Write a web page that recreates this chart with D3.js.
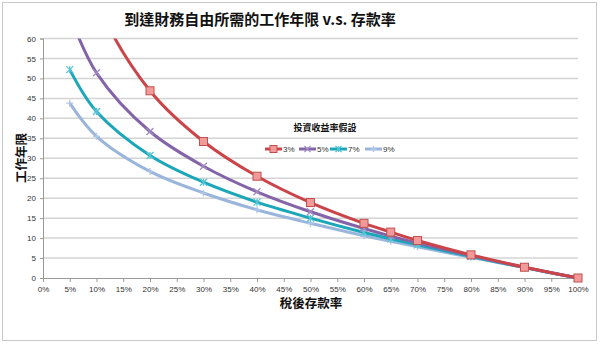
<!DOCTYPE html>
<html><head><meta charset="utf-8">
<script src="https://cdn.jsdelivr.net/npm/d3@7"></script>
<style>body{margin:0;background:#fff}svg{display:block}</style>
</head><body>
<svg id="c" width="600" height="344"></svg>
<script>
const savingsRates = [0.05,0.10,0.20,0.30,0.40,0.50,0.60,0.65,0.70,0.80,0.90,1.00];
const years3 = [92.2,69.3,46.9,34.2,25.5,18.9,13.7,11.5,9.4,5.8,2.7,0];
const years5 = [65.8,51.4,36.7,28.0,21.6,16.6,12.4,10.5,8.8,5.6,2.7,0];
const years7 = [52.2,41.7,30.7,24.0,19.0,15.0,11.4,9.8,8.3,5.4,2.6,0];
const years9 = [43.8,35.5,26.7,21.3,17.1,13.7,10.6,9.2,7.8,5.2,2.6,0];
const seriesNames = ["3%","5%","7%","9%"];
const yTicks = [0,5,10,15,20,25,30,35,40,45,50,55,60];
const xTicks = d3.range(0,21).map(i=>i*0.05);
const title = "到達財務自由所需的工作年限 v.s. 存款率";
const xTitle = "稅後存款率";
const yTitle = "工作年限";
const legendTitle = "投資收益率假設";

const colors = ["#CB4449","#8464A8","#1BA7B9","#9AB5DC"];
const markerColors = ["#C0504D","#A28CC4","#55C4D4","#B0C6E6"];
const markers = ["square","x","star","plus"];
const allYears = [years3,years5,years7,years9];

const svg = d3.select("#c");
const cjk = "'Noto Sans CJK TC','Noto Sans CJK SC',sans-serif";
const lf = "'Liberation Sans',Arial,sans-serif";

svg.append("rect").attr("x",2.5).attr("y",2.5).attr("width",594).attr("height",338)
  .attr("fill","#fff").attr("stroke","#c8c8c8");

const x = d3.scaleLinear().domain([0,1]).range([43,578]);
const y = d3.scaleLinear().domain([0,60]).range([278,38.5]);

// gridlines
svg.append("g").selectAll("line").data(yTicks.filter(d=>d>0)).join("line")
  .attr("x1",x(0)).attr("x2",x(1)).attr("y1",d=>y(d)).attr("y2",d=>y(d))
  .attr("stroke","#d4d4d4").attr("stroke-width",1.5);

// axes
const yAxis = d3.axisLeft(y).tickValues(yTicks).tickSize(3).tickPadding(4).tickFormat(d3.format("d"));
const gy = svg.append("g").attr("transform",`translate(${x(0)},0)`).call(yAxis);
const xAxis = d3.axisBottom(x).tickValues(xTicks).tickSize(4).tickPadding(4).tickFormat(d3.format(".0%"));
const gx = svg.append("g").attr("transform",`translate(0,${y(0)})`).call(xAxis);
[gx,gy].forEach(g=>{
  g.select(".domain").attr("stroke","#9a9a9a");
  g.selectAll(".tick line").attr("stroke","#9a9a9a");
  g.selectAll("text").attr("font-family",lf).attr("font-size",8).attr("fill","#333");
});

// clip
svg.append("clipPath").attr("id","pc").append("rect")
  .attr("x",x(0)).attr("y",y(60)).attr("width",x(1)-x(0)+10).attr("height",y(0)-y(60)+10);

const line = d3.line().x(d=>x(d[0])).y(d=>y(d[1])).curve(d3.curveCatmullRom.alpha(0.5));

function drawMarker(g, type, cx, cy, i, s){
  if(type==="square"){
    g.append("rect").attr("x",cx-s).attr("y",cy-s).attr("width",2*s).attr("height",2*s)
      .attr("fill","#F29A9A").attr("stroke",markerColors[i]).attr("stroke-width",1);
  } else {
    const p = d3.path();
    if(type==="x"||type==="star"){
      p.moveTo(cx-s,cy-s);p.lineTo(cx+s,cy+s);p.moveTo(cx-s,cy+s);p.lineTo(cx+s,cy-s);
    }
    if(type==="star"||type==="plus"){ p.moveTo(cx,cy-s);p.lineTo(cx,cy+s); }
    if(type==="plus"){ p.moveTo(cx-s,cy);p.lineTo(cx+s,cy); }
    g.append("path").attr("d",p.toString()).attr("stroke",markerColors[i]).attr("stroke-width",1.3).attr("fill","none");
  }
}

const plot = svg.append("g").attr("clip-path","url(#pc)");
[3,2,1,0].forEach(i=>{
  const pts = savingsRates.map((s,j)=>[s,allYears[i][j]]);
  plot.append("path").attr("d",line(pts)).attr("fill","none")
    .attr("stroke",colors[i]).attr("stroke-width",3);
  const mg = plot.append("g");
  pts.forEach(p=>{ if(p[1]<=60) drawMarker(mg, markers[i], x(p[0]), y(p[1]), i, markers[i]==="square"?4:3.5); });
});

// titles
svg.append("text").attr("x",260).attr("y",25).attr("text-anchor","middle")
  .attr("font-family",cjk).attr("font-weight","bold").attr("font-size",15).attr("fill","#111").text(title);
svg.append("text").attr("x",311).attr("y",308).attr("text-anchor","middle")
  .attr("font-family",cjk).attr("font-weight","bold").attr("font-size",12.5).attr("fill","#111").text(xTitle);
svg.append("text").attr("transform","translate(26,158) rotate(-90)").attr("text-anchor","middle")
  .attr("font-family",cjk).attr("font-weight","bold").attr("font-size",12.5).attr("fill","#111").text(yTitle);

// legend
svg.append("text").attr("x",325).attr("y",131).attr("text-anchor","middle")
  .attr("font-family",cjk).attr("font-weight","bold").attr("font-size",9).attr("fill","#111").text(legendTitle);
const lx = [265,299,330,365];
seriesNames.forEach((n,i)=>{
  const g = svg.append("g");
  g.append("line").attr("x1",lx[i]).attr("x2",lx[i]+17).attr("y1",149).attr("y2",149)
    .attr("stroke",colors[i]).attr("stroke-width",3);
  drawMarker(g, markers[i], lx[i]+8.5, 149, i, markers[i]==="square"?3.5:3);
  g.append("text").attr("x",lx[i]+18).attr("y",152).attr("font-family",lf).attr("font-size",8)
    .attr("fill","#333").text(n);
});
</script>
</body></html>
